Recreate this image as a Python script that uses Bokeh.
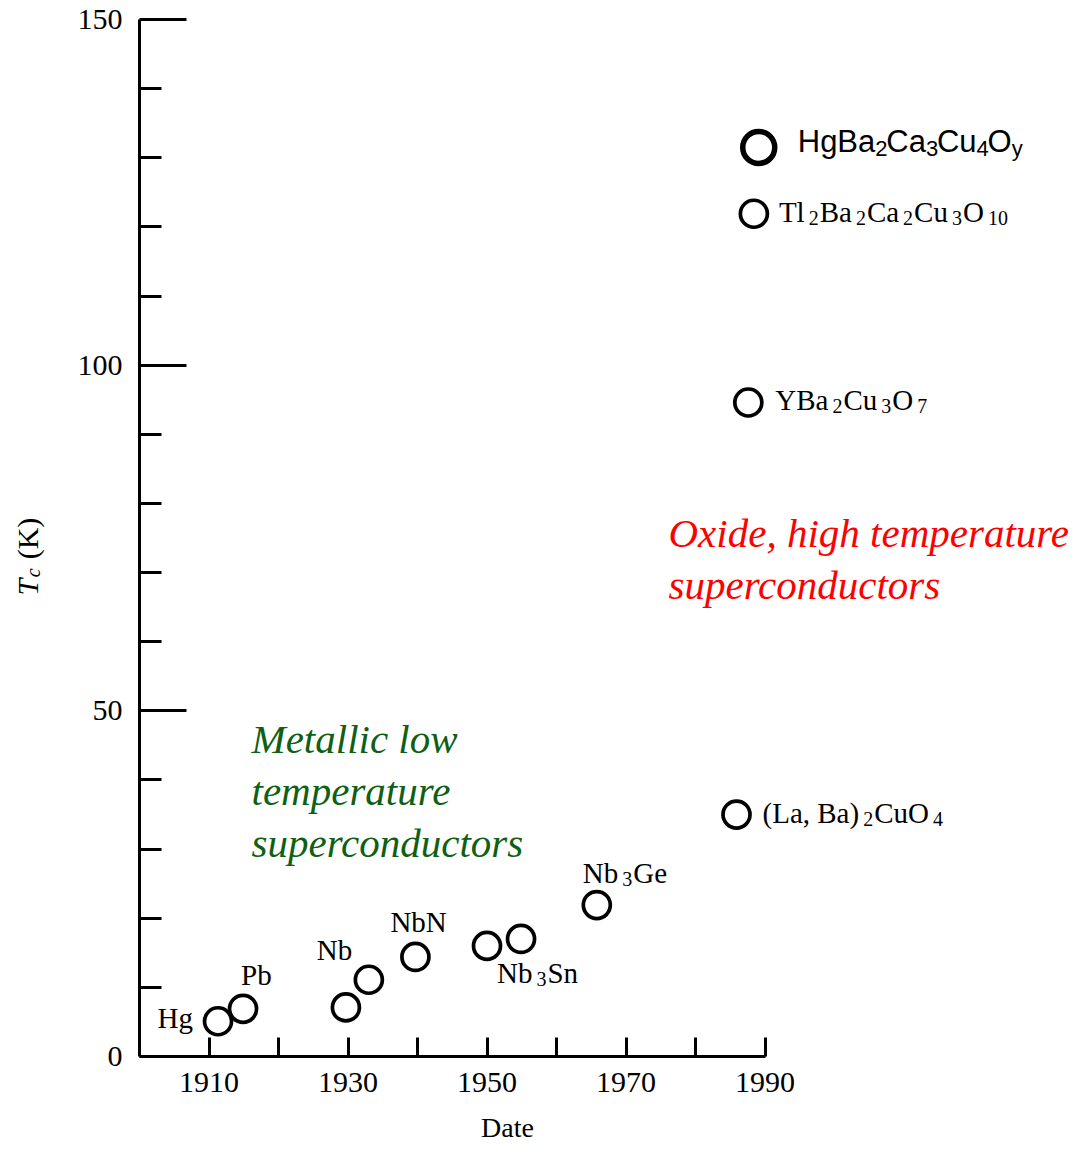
from bokeh.plotting import figure
from bokeh.models import ColumnDataSource, FixedTicker, Range1d
from bokeh.core.properties import value
from bokeh.embed import file_html
from bokeh.resources import INLINE

# ---------------- data ----------------
materials = ["Hg", "Pb", "", "Nb", "NbN", "", "Nb3Sn", "Nb3Ge",
             "(La, Ba)2CuO4", "YBa2Cu3O7", "Tl2Ba2Ca2Cu3O10", "HgBa2Ca3Cu4Oy"]
years = [1911.3, 1914.9, 1929.7, 1933.0, 1939.7, 1950.0, 1954.9, 1965.8,
         1985.9, 1987.6, 1988.4, 1989.1]
tc = [5.1, 6.9, 7.1, 11.1, 14.4, 16.0, 17.0, 21.9, 35.0, 94.6, 121.9, 131.5]

x_major = [1910, 1930, 1950, 1970, 1990]
x_minor = [1920, 1940, 1960, 1980]
y_major = [0, 50, 100, 150]
y_minor = [10, 20, 30, 40, 60, 70, 80, 90, 110, 120, 130, 140]

metal_lines = ["Metallic low", "temperature", "superconductors"]
oxide_lines = ["Oxide, high temperature", "superconductors"]

# formula pieces: (text, is_subscript)
parts = {
    "Hg": [("Hg", 0)],
    "Pb": [("Pb", 0)],
    "Nb": [("Nb", 0)],
    "NbN": [("NbN", 0)],
    "Nb3Sn": [("Nb", 0), ("3", 1), ("Sn", 0)],
    "Nb3Ge": [("Nb", 0), ("3", 1), ("Ge", 0)],
    "(La, Ba)2CuO4": [("(La, Ba)", 0), ("2", 1), ("CuO", 0), ("4", 1)],
    "YBa2Cu3O7": [("YBa", 0), ("2", 1), ("Cu", 0), ("3", 1), ("O", 0), ("7", 1)],
    "Tl2Ba2Ca2Cu3O10": [("Tl", 0), ("2", 1), ("Ba", 0), ("2", 1), ("Ca", 0), ("2", 1),
                        ("Cu", 0), ("3", 1), ("O", 0), ("10", 1)],
    "HgBa2Ca3Cu4Oy": [("HgBa", 0), ("2", 1), ("Ca", 0), ("3", 1), ("Cu", 0), ("4", 1),
                      ("O", 0), ("y", 1)],
}

# ---------------- layout / style ----------------
SERIF = "Liberation Serif"
SANS = "Liberation Sans"
W, H = 1075, 1147
AX_L, AX_T, AX_B = 139, 19, 1056      # axis positions on the canvas (px)
PX_X = 6.95                            # px per year
PX_Y = (AX_B - AX_T) / 150.0           # px per kelvin
BFIX = 0.36                            # baseline correction (fraction of font size)


def data_x(px):
    return 1900 + (px - AX_L) / PX_X


def data_y(px):
    return (AX_B - px) / PX_Y


# label placement relative to marker centre (px, y down) and alignment
label_pos = {
    "Hg": (-25, 7, "right"),
    "Pb": (-2, -23, "left"),
    "Nb": (-52, -19, "left"),
    "NbN": (-25, -25, "left"),
    "Nb3Sn": (-24, 44, "left"),
    "Nb3Ge": (-14, -22, "left"),
    "(La, Ba)2CuO4": (26, 9, "left"),
    "YBa2Cu3O7": (27, 8, "left"),
    "Tl2Ba2Ca2Cu3O10": (25, 9, "left"),
    "HgBa2Ca3Cu4Oy": (39, 5, "left"),
}

SERIF_W = {'H': 722, 'g': 500, 'P': 556, 'b': 500, 'N': 722, 'S': 556, 'n': 500,
           'G': 722, 'e': 444, '(': 333, ')': 333, 'L': 611, 'a': 444, ',': 250,
           ' ': 250, 'B': 667, 'C': 667, 'u': 500, 'O': 722, 'Y': 722, 'T': 611,
           'l': 278, 'K': 722, 'c': 444}
SANS_W = {'H': 722, 'g': 556, 'B': 667, 'a': 556, 'C': 722, 'u': 556, 'O': 778,
          'y': 500}


def width(s, size, table):
    return sum(table.get(ch, 500 if ch.isdigit() else 556) for ch in s) / 1000.0 * size


def segments(pl, size, sub_size, table, gap_b, gap_a, drop):
    segs = []
    cx = 0.0
    for txt, sub in pl:
        if sub:
            cx += gap_b
            segs.append((txt, cx, drop, sub_size))
            cx += width(txt, sub_size, table) + gap_a
        else:
            segs.append((txt, cx, 0, size))
            cx += width(txt, size, table)
    return segs, cx


serif_rows = dict(x=[], y=[], text=[], xo=[], yo=[], fs=[])
sans_rows = dict(x=[], y=[], text=[], xo=[], yo=[], fs=[])
for name, xv, yv in zip(materials, years, tc):
    if not name:
        continue
    dx, dy, align = label_pos[name]
    if name.startswith("HgBa"):
        fsz = 31
        segs, total = segments(parts[name], fsz, 22, SANS_W, 0, 0, 7)
        rows = sans_rows
    else:
        fsz = 29
        segs, total = segments(parts[name], fsz, 20, SERIF_W, 4, 1, 6)
        rows = serif_rows
    if align == "right":
        dx -= total
    for txt, ox, oy, fs in segs:
        rows["x"].append(xv)
        rows["y"].append(yv)
        rows["text"].append(txt)
        rows["xo"].append(dx + ox)
        rows["yo"].append(dy + oy - BFIX * fsz)
        rows["fs"].append(f"{fs}px")

# ---------------- figure (frame = whole canvas, axes at fixed locations) ----------------
p = figure(width=W, height=H,
           x_range=Range1d(data_x(0), data_x(W)), y_range=Range1d(data_y(H), data_y(0)),
           output_backend="svg", toolbar_location=None,
           min_border=0, min_border_left=0, min_border_right=0,
           min_border_top=0, min_border_bottom=0)
p.outline_line_color = None
p.grid.visible = False
p.background_fill_color = "white"
p.border_fill_color = "white"

xa = p.xaxis[0]
xa.ticker = FixedTicker(ticks=x_major, minor_ticks=x_minor)
xa.bounds = (1900, 1990)
xa.fixed_location = 0
ya = p.yaxis[0]
ya.ticker = FixedTicker(ticks=y_major, minor_ticks=y_minor)
ya.bounds = (0, 150)
ya.fixed_location = 1900
for ax in (xa, ya):
    ax.axis_line_width = 3
    ax.axis_line_color = "black"
    ax.major_tick_line_width = 3
    ax.minor_tick_line_width = 3
    ax.major_tick_out = 0
    ax.minor_tick_out = 0
    ax.major_label_text_font = SERIF
    ax.major_label_text_font_size = "30px"
    ax.major_label_text_color = "black"
xa.major_tick_in = 19
xa.minor_tick_in = 19
xa.major_label_standoff = 16
ya.major_tick_in = 47
ya.minor_tick_in = 22
ya.major_label_standoff = 17

# markers
p.scatter(years[:-1], tc[:-1], marker="circle", size=27, fill_color=None,
          line_color="black", line_width=3.7)
p.scatter(years[-1:], tc[-1:], marker="circle", size=32, fill_color=None,
          line_color="black", line_width=5.5)

# formula labels
p.text(x="x", y="y", text="text", x_offset="xo", y_offset="yo",
       text_font_size="fs", text_font=value(SERIF), text_baseline="alphabetic",
       text_align="left", text_color="black", source=ColumnDataSource(serif_rows))
p.text(x="x", y="y", text="text", x_offset="xo", y_offset="yo",
       text_font_size="fs", text_font=value(SANS), text_baseline="alphabetic",
       text_align="left", text_color="black", source=ColumnDataSource(sans_rows))

# group annotations
IT = 41
p.text(x=[data_x(251)] * len(metal_lines), y=[data_y(b) for b in (753, 805, 857)],
       text=metal_lines, y_offset=-BFIX * IT,
       text_font=value(SERIF), text_font_style="italic", text_font_size=f"{IT}px",
       text_color="#0f5f14", text_baseline="alphabetic", text_align="left")
p.text(x=[data_x(668)] * len(oxide_lines), y=[data_y(b) for b in (547, 599)],
       text=oxide_lines, y_offset=-BFIX * IT,
       text_font=value(SERIF), text_font_style="italic", text_font_size=f"{IT}px",
       text_color="#ff0000", text_baseline="alphabetic", text_align="left")

# axis titles
p.text(x=[data_x(507)], y=[data_y(1137)], text=["Date"], y_offset=-BFIX * 28,
       text_font=value(SERIF), text_font_size="28px", text_align="center",
       text_baseline="alphabetic", text_color="black")

# rotated y title: (text, style, size, subscript, leading gap px)
ylab = [("T", "italic", 30, 0, 0), ("c", "italic", 20, 1, 0), ("(K)", "normal", 30, 0, 8)]
cum = 0.0
for txt, style, fs, sub, gap in ylab:
    cum += gap
    shift = 5 if sub else 0
    p.text(x=[data_x(38 - BFIX * 30 + shift)], y=[data_y(595 - cum)], text=[txt],
           angle=1.5708, text_font=value(SERIF), text_font_style=style,
           text_font_size=f"{fs}px", text_align="left",
           text_baseline="alphabetic", text_color="black")
    cum += width(txt, fs, SERIF_W) + (1 if sub else 0)

open("out.html", "w").write(file_html(p, INLINE))
